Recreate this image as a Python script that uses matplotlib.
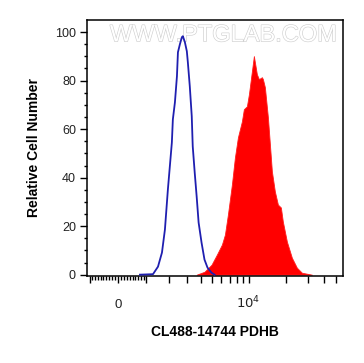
import numpy as np
import matplotlib
matplotlib.use("Agg")
import matplotlib.pyplot as plt
import matplotlib.patheffects as pe
from matplotlib.ticker import FixedLocator, NullFormatter, FixedFormatter

plt.rcParams["font.family"] = ["Liberation Sans", "DejaVu Sans"]

# control (unstained) histogram, blue outline
ctrl_x = [764, 1267, 1478, 1654, 1791, 1933, 2133, 2185, 2294, 2405, 2461, 2573,
          2690, 2749, 2871, 2997, 3062, 3191, 3326, 3395, 3537, 3682, 3831, 4066,
          4312, 4577, 4952, 5258]
ctrl_y = [0, 0.2, 3.3, 9.1, 18.6, 35.1, 54.5, 64.0, 71.0, 81.8, 91.7, 95.0,
          97.9, 98.3, 95.9, 92.1, 87.6, 77.7, 65.3, 52.9, 42.1, 32.2, 21.5, 13.2,
          6.2, 2.9, 0.8, 0]

# CL488-14744 PDHB stained histogram, red fill
pdhb_x = [3682, 4312, 4952, 5500, 6053, 6411, 6787, 7319, 7745, 8195, 8830, 9158,
          9690, 10064, 10641, 11033, 11666, 12112, 12802, 13040, 13524, 14300,
          14840, 15390, 16260, 17190, 18160, 18830, 20290, 22220, 24350, 26700, 32080]
pdhb_y = [0, 1.2, 4.1, 8.3, 12.4, 16.5, 24.8, 37.2, 48.3, 56.6, 63.2, 68.2,
          69.4, 74.4, 83.9, 90.1, 82.6, 80.6, 81.4, 80.6, 77.3, 64.9,
          53.7, 42.6, 34.3, 28.9, 27.7, 21.9, 13.6, 7.0, 2.9, 0.8, 0]

x_major = [0, 10000]
x_major_labels = ["0", r"$10^4$"]
x_mid = [-1000, 1000, 2000, 3000, 4000, 5000, 6000, 7000, 8000, 9000,
         20000, 30000, 40000, 50000]
x_fine = [v for v in range(-900, 1000, 100) if v != 0]
y_major = [0, 20, 40, 60, 80, 100]

W = 1850.0  # asinh width of the biexponential-like axis


def fwd(x):
    return np.arcsinh(np.asarray(x, dtype=float) / W)


def inv(y):
    return W * np.sinh(np.asarray(y, dtype=float))


fig = plt.figure(figsize=(3.64, 3.63), dpi=100)
ax = fig.add_axes([0.239, 0.240, 0.703, 0.705])
ax.set_xscale("function", functions=(fwd, inv))
ax.set_xlim(-1106, 56600)
ax.set_ylim(-0.5, 105)

ax.fill_between(pdhb_x, pdhb_y, 0, color="#ff0000", lw=0.6, edgecolor="#ff2020", zorder=2)
ax.plot(ctrl_x, ctrl_y, color="#1f1fb0", lw=1.3, zorder=3)

# ticks: major labelled, mid-length thousands, fine hundreds near zero
ax.xaxis.set_major_locator(FixedLocator(x_major + x_mid))
ax.xaxis.set_major_formatter(FixedFormatter(x_major_labels + [""] * len(x_mid)))
ax.xaxis.set_minor_locator(FixedLocator(x_fine))
ax.xaxis.set_minor_formatter(NullFormatter())
ax.tick_params(axis="x", which="major", length=5, width=1, pad=18, labelsize=9.5,
               labelcolor="#222222")
ax.tick_params(axis="x", which="minor", length=3, width=1)
for lbl in ax.get_xticklabels():
    lbl.set_verticalalignment("baseline")

ax.set_yticks(y_major)
ax.set_yticks(np.arange(0, 105, 5), minor=True)
ax.tick_params(axis="y", which="major", length=5, width=1, pad=3, labelsize=9,
               labelcolor="#222222")
ax.tick_params(axis="y", which="minor", length=2.5, width=1)

for s in ax.spines.values():
    s.set_linewidth(1.1)

ax.set_xlabel("CL488-14744 PDHB", fontsize=10, fontweight="bold", labelpad=10)
ax.set_ylabel("Relative Cell Number", fontsize=10, fontweight="bold", labelpad=10)

ax.text(0.532, 0.94, "WWW.PTGLAB.COM", transform=ax.transAxes, ha="center",
        va="center", fontsize=17, color="white", zorder=1,
        path_effects=[pe.withStroke(linewidth=0.9, foreground="#d0d0d0")])

fig.savefig("out.png", dpi=100)
